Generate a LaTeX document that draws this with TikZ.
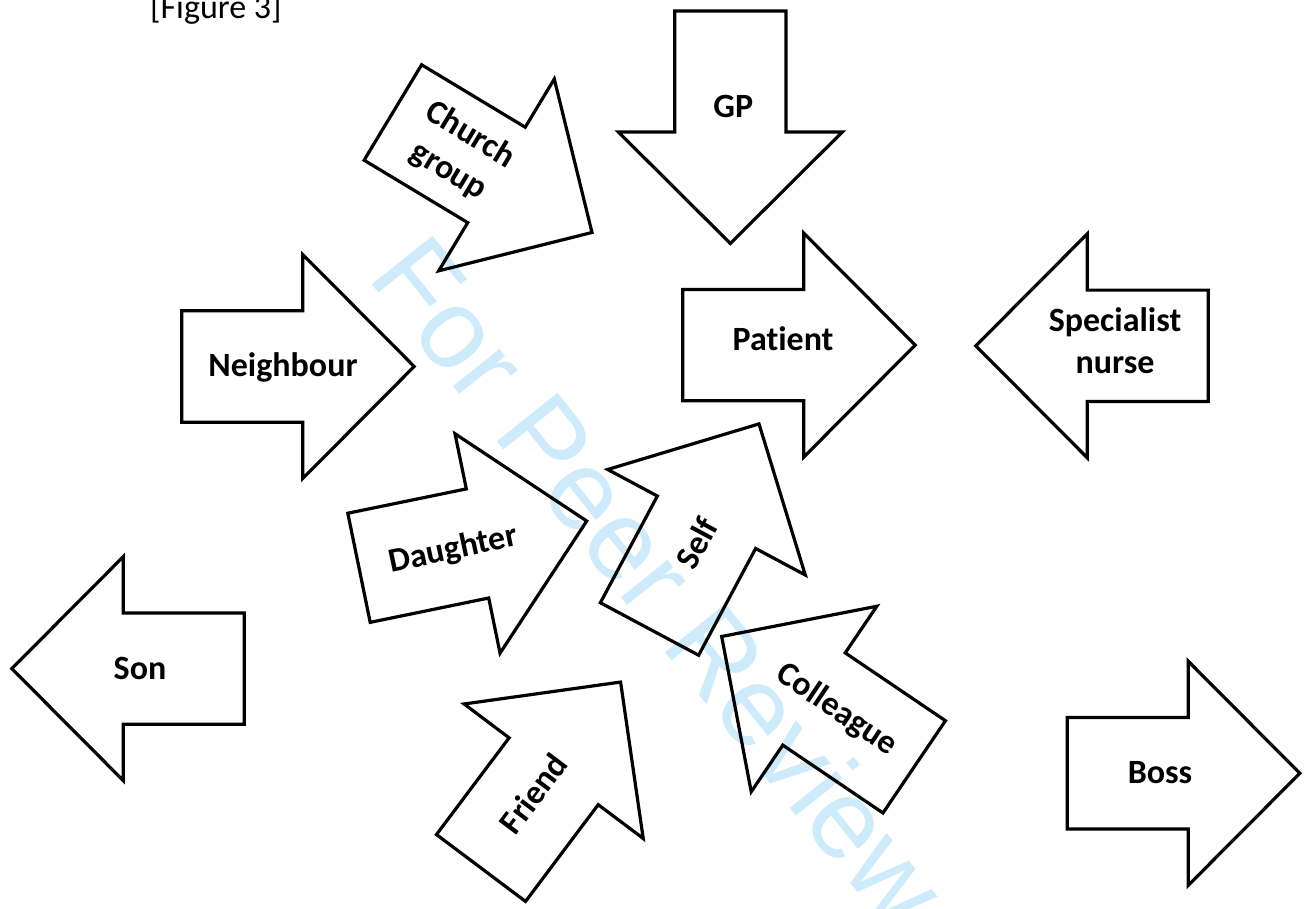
\documentclass[tikz,border=0pt]{standalone}
\usepackage{fontspec}
\setmainfont{Carlito}[Ligatures=NoCommon]
\newfontfamily\markfont{Liberation Sans}
\definecolor{wmcolor}{RGB}{205,235,250}
\begin{document}
\begin{tikzpicture}[x=1pt,y=1pt,
  arrowline/.style={draw=black, line width=3.2pt, line join=miter},
  lbl/.style={font=\fontsize{34}{42}\selectfont\bfseries, align=center, inner sep=0pt},
  pics/bigarrow/.style={code={
    \draw[arrowline] (0,-55.7) -- (121,-55.7) -- (121,-112) -- (232.5,0)
      -- (121,112) -- (121,55.7) -- (0,55.7) -- cycle;}}
]
\clip (0,0) rectangle (1307,909);

% diagonal watermark behind the arrows
\node[font=\markfont\fontsize{113}{113}\selectfont, text=wmcolor, rotate=-51.4,
      anchor=base west, inner sep=0pt] (watermark) at (366,632) {For Peer Review};

% caption
\node[font=\fontsize{34}{42}\selectfont, anchor=base west, inner sep=0pt] (title) at (150,890) {[Figure 3]};

% block arrows: origin at the middle of the tail edge, pointing along the rotation
\pic[rotate=-31.07] at (392.85,796.5) {bigarrow};
\pic[rotate=-90]    at (730.35,898)   {bigarrow};
\pic                at (181.7,542.5)  {bigarrow};
\pic                at (682.7,563.85) {bigarrow};
\pic[rotate=180]    at (1208.3,563.15){bigarrow};
\pic[rotate=11.6]   at (359,341.2)    {bigarrow};
\pic[rotate=61.9]   at (649.5,280)    {bigarrow};
\pic[rotate=180]    at (244.3,240.35) {bigarrow};
\pic[rotate=53.1]   at (481,41)       {bigarrow};
\pic[rotate=145.9]  at (914.2,142.15) {bigarrow};
\pic                at (1067.3,135.7) {bigarrow};

% labels
\node[lbl, rotate=-31]  (church)    at (459.2,755.65) {Church\\group};
\node[lbl, anchor=base] (gp)        at (733.3,791.3)  {GP};
\node[lbl, anchor=base] (neighbour) at (283,532.3)    {Neighbour};
\node[lbl, anchor=base] (patient)   at (783,558)      {Patient};
\node[lbl]              (nurse)     at (1115,567.9)   {Specialist\\nurse};
\node[lbl, rotate=12]   (daughter)  at (453.3,359)    {Daughter};
\node[lbl, rotate=61.9] (self)      at (696.7,365.7)  {Self};
\node[lbl, anchor=base] (son)       at (140,229.7)    {Son};
\node[lbl, rotate=53.1] (friend)    at (533.3,115.7)  {Friend};
\node[lbl, rotate=-34]  (colleague) at (836.7,199)    {Colleague};
\node[lbl, anchor=base] (boss)      at (1160,125.7)   {Boss};
\end{tikzpicture}
\end{document}
